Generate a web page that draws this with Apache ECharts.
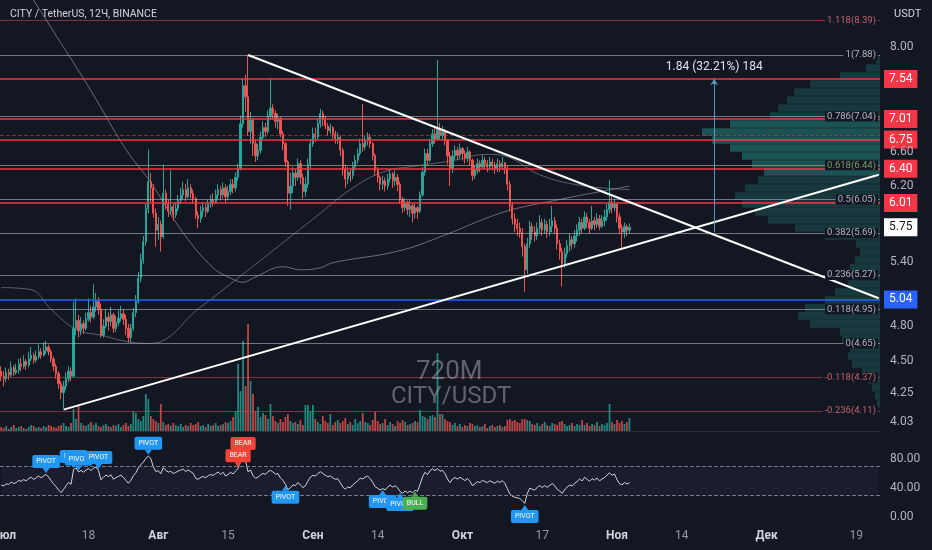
<!DOCTYPE html>
<html><head><meta charset="utf-8">
<script src="https://cdn.jsdelivr.net/npm/echarts/dist/echarts.min.js"></script>
<style>html,body{margin:0;padding:0;background:#131722;}#c{width:932px;height:550px;}</style>
</head><body><div id="c"></div>
<script>
// ---------- data ----------
const startTime = Date.UTC(2023,5,30,12); // first 12h bar: Jun 30 12:00
const barCount = 353;                     // bars incl. empty future space
const open0 = 4.42;
const closes = [4.38,4.36,4.41,4.39,4.45,4.41,4.43,4.48,4.46,4.50,4.47,4.52,4.55,4.51,4.54,4.58,4.55,4.59,4.62,4.58,
4.52,4.46,4.40,4.32,4.25,4.30,4.36,4.42,4.38,4.78,4.85,4.76,4.82,4.78,4.86,4.92,4.88,4.97,5.02,4.95,
4.72,4.80,4.88,4.84,4.90,4.78,4.83,4.87,4.91,4.86,4.78,4.70,4.78,4.92,5.02,5.24,5.42,5.60,5.95,6.25,
6.18,5.90,5.72,5.78,5.65,6.12,6.00,5.92,5.97,5.88,5.95,6.04,6.10,6.16,6.08,6.18,6.12,6.06,5.88,5.84,
5.92,5.96,5.92,6.00,6.05,6.02,6.10,6.16,6.10,6.18,6.08,6.14,6.22,6.18,6.30,6.40,6.95,7.45,7.30,6.85,
7.00,6.70,6.55,6.62,6.78,6.90,6.85,7.05,7.15,7.08,6.98,7.02,6.82,6.70,6.48,6.12,6.20,6.35,6.30,6.46,
6.30,6.14,6.22,6.45,6.70,6.82,6.78,6.95,7.08,7.00,6.92,6.86,6.90,6.82,6.76,6.78,6.62,6.40,6.28,6.36,
6.32,6.42,6.50,6.58,6.70,6.66,6.74,6.78,6.70,6.56,6.38,6.30,6.22,6.26,6.20,6.28,6.34,6.26,6.30,6.22,
6.05,5.96,6.02,5.94,5.98,5.90,5.96,5.92,6.10,6.36,6.58,6.50,6.70,6.82,6.76,6.88,6.80,6.84,6.74,6.55,
6.40,6.55,6.62,6.56,6.64,6.58,6.52,6.60,6.50,6.32,6.38,6.46,6.42,6.50,6.46,6.42,6.48,6.44,6.40,6.46,
6.42,6.47,6.40,6.22,5.98,5.84,5.78,5.74,5.70,5.55,5.32,5.58,5.76,5.70,5.66,5.74,5.80,5.72,5.78,5.70,
5.76,5.82,5.74,5.58,5.50,5.38,5.48,5.56,5.62,5.58,5.66,5.72,5.80,5.74,5.86,5.80,5.74,5.82,5.78,5.84,
5.76,5.82,5.86,5.94,6.02,5.96,6.00,5.86,5.74,5.70,5.76,5.72,5.75];
const highs = [4.46,4.42,4.45,4.44,4.50,4.47,4.48,4.52,4.53,4.55,4.52,4.58,4.62,4.57,4.59,4.64,4.61,4.66,4.67,4.64,
4.60,4.54,4.48,4.42,4.34,4.34,4.41,4.46,4.45,5.02,5.05,4.90,4.88,4.85,4.92,5.05,4.98,5.18,5.10,5.06,
5.00,4.86,4.95,4.92,4.97,4.92,4.89,4.94,4.98,4.95,4.90,4.82,4.82,4.96,5.08,5.30,5.48,5.66,6.00,6.63,
6.35,6.22,5.95,5.86,5.82,6.45,6.16,6.05,6.38,6.00,6.02,6.10,6.18,6.25,6.22,6.28,6.22,6.16,6.08,5.92,
5.98,6.02,6.00,6.05,6.10,6.12,6.16,6.22,6.20,6.24,6.22,6.20,6.28,6.28,6.36,6.46,7.05,7.55,7.60,7.88,
7.10,7.02,6.75,6.70,6.85,6.98,6.96,7.12,7.55,7.20,7.12,7.08,7.04,6.86,6.72,6.50,6.35,6.42,6.40,6.52,
6.50,6.34,6.30,6.52,6.76,6.90,6.90,7.02,7.14,7.12,7.05,6.96,6.95,6.92,6.86,6.84,6.80,6.65,6.45,6.42,
6.40,6.48,6.56,6.64,6.76,7.20,6.80,6.84,6.82,6.72,6.58,6.42,6.32,6.32,6.30,6.34,6.40,6.36,6.38,6.34,
6.25,6.08,6.06,6.04,6.04,6.00,6.00,5.98,6.14,6.42,6.64,6.64,6.76,6.88,6.90,7.81,6.96,6.92,6.88,6.76,
6.60,6.62,6.68,6.66,6.70,6.66,6.62,6.66,6.62,6.52,6.44,6.52,6.50,6.56,6.54,6.50,6.54,6.52,6.48,6.52,
6.50,6.54,6.48,6.44,6.26,6.02,5.90,5.84,5.80,5.74,5.58,5.64,5.82,5.80,5.76,5.80,5.88,5.84,5.84,5.82,
5.84,5.98,5.86,5.78,5.62,5.54,5.54,5.62,5.68,5.66,5.72,5.78,5.86,5.84,5.92,5.90,5.84,5.98,5.86,5.90,
5.88,5.88,5.94,6.00,6.27,6.08,6.06,6.02,5.90,5.78,5.80,5.78,5.79];
const lows = [4.34,4.30,4.33,4.35,4.37,4.38,4.39,4.40,4.42,4.44,4.43,4.45,4.50,4.48,4.49,4.52,4.52,4.54,4.56,4.55,
4.49,4.42,4.36,4.28,4.20,4.13,4.27,4.33,4.34,4.37,4.72,4.70,4.72,4.73,4.76,4.84,4.83,4.86,4.93,4.90,
4.70,4.70,4.78,4.76,4.80,4.74,4.75,4.80,4.84,4.81,4.72,4.66,4.66,4.76,4.88,5.00,5.20,5.38,5.56,5.90,
6.02,5.85,5.55,5.62,5.50,5.63,5.94,5.86,5.88,5.82,5.85,5.92,6.00,6.05,6.03,6.06,6.06,6.00,5.84,5.74,
5.80,5.86,5.86,5.90,5.96,5.97,6.00,6.05,6.04,6.06,6.02,6.04,6.10,6.12,6.14,6.26,6.38,6.90,7.10,6.80,
6.70,6.55,6.48,6.50,6.58,6.74,6.78,6.82,7.00,7.00,6.90,6.88,6.78,6.62,6.42,5.98,5.94,6.12,6.20,6.26,
6.22,6.06,6.08,6.18,6.40,6.66,6.72,6.75,6.90,6.92,6.88,6.80,6.82,6.76,6.70,6.70,6.55,6.32,6.18,6.22,
6.25,6.28,6.38,6.46,6.55,6.60,6.62,6.68,6.65,6.50,6.32,6.24,6.15,6.16,6.14,6.16,6.24,6.18,6.20,6.14,
6.00,5.90,5.92,5.88,5.86,5.80,5.84,5.84,5.90,6.08,6.32,6.44,6.48,6.66,6.70,6.74,6.75,6.74,6.68,6.45,
6.20,6.35,6.50,6.50,6.52,6.50,6.46,6.48,6.44,6.26,6.28,6.34,6.36,6.40,6.40,6.36,6.38,6.38,6.34,6.36,
6.36,6.38,6.34,6.15,5.92,5.78,5.70,5.66,5.64,5.45,5.11,5.28,5.54,5.62,5.60,5.62,5.68,5.66,5.68,5.64,
5.66,5.70,5.68,5.52,5.42,5.16,5.34,5.44,5.50,5.52,5.54,5.60,5.66,5.68,5.72,5.74,5.68,5.72,5.72,5.74,
5.72,5.74,5.76,5.82,5.90,5.90,5.92,5.80,5.68,5.54,5.64,5.66,5.68];
const volumes = [4,3,5,2,4,6,3,4,5,3,2,4,6,5,3,4,3,5,4,6,5,4,3,5,6,8,5,4,
8,22,12,25,
8,6,5,7,9,6,8,5,4,6,7,5,4,6,5,7,4,6,8,5,7,
20,18,12,10,15,37,32,15,12,10,8,27,
9,6,7,5,8,6,5,7,4,6,5,8,6,7,9,5,6,4,7,5,6,8,5,6,7,9,8,10,14,
20,67,40,90,45,107,50,37,20,24,14,18,16,12,27,15,
10,8,12,9,14,17,10,8,9,7,11,6,
26,26,20,26,
12,9,7,15,10,8,17,6,9,11,8,10,13,7,9,6,12,8,10,
18,9,8,6,11,19,
10,7,8,12,6,9,7,5,10,8,11,9,6,7,8,10,9,
21,15,14,12,15,16,14,78,17,17,12,
10,9,6,8,5,7,4,6,5,8,7,5,6,4,5,7,3,5,6,4,5,6,4,5,
11,12,10,11,9,8,12,12,11,10,
7,6,8,5,7,9,6,5,8,7,6,9,10,7,5,6,8,5,7,6,
11,6,8,5,7,6,9,5,7,6,8,27,9,7,11,8,10,7,9,13];
const maSlow = [[0,9.58],[13,8.71],[24,8.05],[36,7.38],[50,6.63],[60,6.24],[73,5.69],[85,5.34],[92,5.24],[97,5.20],[101,5.24],[113,5.35],[120,5.32],[128,5.34],[133,5.39],[160,5.51],[180,5.69],[193,5.83],[205,5.94],[224,6.05],[235,6.11],[252,6.20]];
const maFast = [[0,5.15],[12,5.13],[20,4.95],[30,4.77],[40,4.72],[52,4.66],[60,4.65],[80,4.97],[96,5.26],[112,5.57],[128,5.90],[140,6.16],[153,6.36],[168,6.44],[180,6.49],[195,6.57],[204,6.53],[216,6.33],[232,6.21],[252,6.16]];
const axisTicks = [8.00,6.60,6.20,5.40,4.80,4.50,4.25,4.03];
const redLevels = [7.54,7.01,6.75,6.40,6.01];
const blueLevel = 5.04;
const lastPrice = 5.75;
const pocPrice = 6.81;
const fibLevels = [['1.118',8.39],['1',7.88],['0.786',7.04],['0.618',6.44],['0.5',6.05],['0.382',5.69],['0.236',5.27],['0.118',4.95],['0',4.65],['-0.118',4.37],['-0.236',4.11]];
const profile = [[7.808,4],[7.694,14],[7.583,40],[7.473,70],[7.364,86],[7.257,93],[7.152,102],[7.048,110],[6.946,150],[6.845,178],[6.746,168],[6.648,150],[6.551,138],[6.456,128],[6.362,116],[6.270,122],[6.179,135],[6.089,145],[6.001,138],[5.914,125],[5.828,112],[5.743,85],[5.660,55],[5.577,24],[5.496,20],[5.417,25],[5.338,30],[5.260,28],[5.184,32],[5.109,45],[5.035,55],[4.962,75],[4.890,82],[4.819,70],[4.749,40],[4.680,38],[4.612,30],[4.545,32],[4.479,28],[4.414,18],[4.350,12],[4.287,8],[4.224,5],[4.163,3]];
const trendDown = [[99,7.88],[352,5.05]];
const trendUp = [[25,4.12],[352,6.33]];
const measure = {idx:286, from:5.70, to:7.54, text:'1.84 (32.21%) 184'};
const pivots = [[18,'PIVOT','high','#2196f3'],[29,'PIVOT','high','#2196f3'],[31,'PIVOT','high','#2196f3'],[39,'PIVOT','high','#2196f3'],
[59,'PIVOT','high','#2196f3'],[95,'BEAR','high','#f44336'],[97,'BEAR','high','#f44336'],[114,'PIVOT','low','#2196f3'],
[153,'PIVOT','low','#2196f3'],[160,'PIVOT','low','#2196f3'],[166,'BULL','low','#4caf50'],[210,'PIVOT','low','#2196f3']];
const timeLabels = {1:'Июл',35:'18',63:'Авг',91:'15',125:'Сен',151:'14',185:'Окт',217:'17',247:'Ноя',273:'14',307:'Дек',343:'19'};
const monthIdx = [1,63,125,185,247,307];

// ---------- build ----------
const cats = [];
for (let i=0;i<barCount;i++){ const d=new Date(startTime+i*43200000); cats.push(d.toISOString().slice(0,13)); }
const candles = closes.map((c,i)=>{ const o=i?closes[i-1]:open0; return [o,c,Math.min(lows[i],o,c),Math.max(highs[i],o,c)]; });
const UP='#26a69a', DN='#ef5350';
const volData = volumes.map((v,i)=>({value:v,itemStyle:{color:candles[i][1]>=candles[i][0]?'rgba(38,166,154,0.8)':'rgba(239,83,80,0.8)'}}));
function calcRsi(cl,n,ag,al){ const out=[100-100/(1+ag/al)]; for(let i=1;i<cl.length;i++){ const ch=cl[i]-cl[i-1]; ag=(ag*(n-1)+Math.max(ch,0))/n; al=(al*(n-1)+Math.max(-ch,0))/n; out.push(100-100/(1+ag/al)); } return out; }
const rsi = calcRsi(closes,14,0.035,0.045);
const rsiFull = cats.map((c,i)=> i<rsi.length ? rsi[i] : null);
const FF = 'Roboto, "Noto Sans", sans-serif';
const BG = '#131722';
const NOLINE = {color:'rgba(0,0,0,0)',width:0.01};

function catAxis(grid, extra){ return Object.assign({type:'category',gridIndex:grid,data:cats,boundaryGap:true,axisLine:{show:false},axisTick:{show:false},axisLabel:{show:false},splitLine:{show:false}},extra||{}); }

const option = {
  animation:false,
  backgroundColor:BG,
  textStyle:{fontFamily:FF},
  title:[
    {text:'CITY / TetherUS, 12Ч, BINANCE',left:5,top:4,textStyle:{color:'#d1d4dc',fontSize:10.5,fontWeight:'normal',fontFamily:FF}},
    {text:'USDT',left:889,top:4,textStyle:{color:'#d1d4dc',fontSize:11,fontWeight:'normal',fontFamily:FF}},
    {text:'720M',left:411,top:354,textStyle:{color:'rgba(160,163,172,0.55)',fontSize:26,fontWeight:'normal',fontFamily:FF}},
    {text:'CITY/USDT',left:386,top:380,textStyle:{color:'rgba(160,163,172,0.55)',fontSize:24,fontWeight:'normal',fontFamily:FF}}
  ],
  grid:[
    {left:0,right:52,top:0,height:431,outerBoundsMode:'none',containLabel:false},
    {left:0,right:52,top:321,height:110,outerBoundsMode:'none',containLabel:false},
    {left:0,right:52,top:432,height:85,outerBoundsMode:'none',containLabel:false}
  ],
  xAxis:[
    catAxis(0,{axisLine:{show:true,lineStyle:{color:'#2a2e39'}}}),
    catAxis(1),
    {type:'value',gridIndex:0,min:0,max:880,inverse:true,show:false},
    catAxis(2,{axisLabel:{show:true,interval:(i)=>timeLabels[i]!==undefined,margin:13,fontSize:12,color:'#9598a1',fontFamily:FF,
      formatter:(v,i)=>monthIdx.includes(i)?'{m|'+timeLabels[i]+'}':timeLabels[i],rich:{m:{color:'#d1d4dc',fontWeight:'bold',fontSize:12,fontFamily:FF}}}})
  ],
  yAxis:[
    {type:'log',gridIndex:0,min:3.962,max:8.713,position:'right',axisLabel:{show:false},axisLine:{show:false},axisTick:{show:false},splitLine:{show:false}},
    {type:'value',gridIndex:1,min:0,max:110,show:false},
    {type:'value',gridIndex:2,min:0,max:117,interval:40,position:'right',axisLine:{show:false},axisTick:{show:false},splitLine:{show:false},
      axisLabel:{color:'#b2b5be',fontSize:12,margin:10,fontFamily:FF,showMaxLabel:false,formatter:v=>v.toFixed(2)}}
  ],
  series:[
    // volume profile
    {type:'custom',xAxisIndex:2,yAxisIndex:0,z:1,silent:true,data:profile,
      renderItem:(params,api)=>{ const p=api.value(0), w=api.value(1); const a=api.coord([w,p]), b=api.coord([0,p]); const h=7.6;
        return {type:'rect',shape:{x:a[0],y:a[1]-h/2,width:b[0]-a[0],height:h},style:{fill:(p>=6.3&&p<=7.0)?'rgba(38,166,154,0.42)':'rgba(38,166,154,0.24)'}}; }},
    // fib levels
    {type:'line',xAxisIndex:0,yAxisIndex:0,data:[],z:2,
      markLine:{silent:true,symbol:['none','none'],
        data:fibLevels.map(([k,v])=>{ const neg = k==='1.118'||k.startsWith('-'); const col = neg?'rgba(200,70,85,0.6)':(k==='0.618'?'rgba(140,150,110,0.8)':'rgba(178,181,190,0.6)');
          const lc = neg?'#c2606d':(k==='0.618'?'#7c9c62':'#b2b5be');
          return {yAxis:v,lineStyle:{color:col,width:1,type:'solid'},label:{formatter:k+'('+v.toFixed(2)+')',color:lc}}; }),
        label:{show:true,position:'insideEnd',distance:2,fontSize:9.5,backgroundColor:BG,padding:[0,2],fontFamily:FF}}},
    // POC dashed
    {type:'line',xAxisIndex:0,yAxisIndex:0,data:[],z:2,
      markLine:{silent:true,symbol:['none','none'],label:{show:false},data:[{yAxis:pocPrice}],lineStyle:{color:'rgba(242,54,69,0.55)',type:'dashed',width:1}}},
    // moving averages
    {type:'line',xAxisIndex:0,yAxisIndex:0,data:maSlow,smooth:0.4,symbol:'none',z:2,lineStyle:{color:'rgba(178,181,190,0.55)',width:1}},
    {type:'line',xAxisIndex:0,yAxisIndex:0,data:maFast,smooth:0.4,symbol:'none',z:2,lineStyle:{color:'rgba(178,181,190,0.45)',width:1}},
    // volume
    {type:'bar',xAxisIndex:1,yAxisIndex:1,data:volData,barWidth:'70%',z:2},
    // candles
    {type:'candlestick',xAxisIndex:0,yAxisIndex:0,data:candles,barWidth:'70%',z:3,
      itemStyle:{color:UP,color0:DN,borderColor:UP,borderColor0:DN,borderWidth:1}},
    // red levels
    {type:'line',xAxisIndex:0,yAxisIndex:0,data:[],z:4,
      markLine:{silent:true,symbol:['none','none'],lineStyle:{color:'#f23645',width:1.6,type:'solid'},
        label:{show:true,position:'end',distance:4,backgroundColor:'#f23645',color:'#fff',fontSize:12,padding:[3,5],fontFamily:FF},
        data:redLevels.map(v=>({yAxis:v,label:{formatter:v.toFixed(2)}}))}},
    // blue level
    {type:'line',xAxisIndex:0,yAxisIndex:0,data:[],z:4,
      markLine:{silent:true,symbol:['none','none'],lineStyle:{color:'#2962ff',width:1.6,type:'solid'},
        label:{show:true,position:'end',distance:4,backgroundColor:'#2962ff',color:'#fff',fontSize:12,padding:[3,5],fontFamily:FF},
        data:[{yAxis:blueLevel,label:{formatter:blueLevel.toFixed(2)}}]}},
    // axis tick labels + last price
    {type:'line',xAxisIndex:0,yAxisIndex:0,data:[],z:3,
      markLine:{silent:true,symbol:['none','none'],lineStyle:NOLINE,
        label:{show:true,position:'end',distance:10,color:'#b2b5be',fontSize:12,fontFamily:FF},
        data:axisTicks.map(v=>({yAxis:v,label:{formatter:v.toFixed(2)}}))}},
    {type:'line',xAxisIndex:0,yAxisIndex:0,data:[],z:5,
      markLine:{silent:true,symbol:['none','none'],lineStyle:NOLINE,
        label:{show:true,position:'end',distance:4,backgroundColor:'#ffffff',color:'#131722',fontSize:12,padding:[3,5],fontFamily:FF},
        data:[{yAxis:lastPrice,label:{formatter:lastPrice.toFixed(2)}}]}},
    // trend lines
    {type:'line',xAxisIndex:0,yAxisIndex:0,data:[],z:6,
      markLine:{silent:true,symbol:['none','none'],label:{show:false},lineStyle:{color:'#ffffff',width:2,type:'solid'},
        data:[[{coord:[cats[trendDown[0][0]],trendDown[0][1]]},{coord:[cats[trendDown[1][0]],trendDown[1][1]]}],
              [{coord:[cats[trendUp[0][0]],trendUp[0][1]]},{coord:[cats[trendUp[1][0]],trendUp[1][1]]}]]}},
    // measure tool
    {type:'line',xAxisIndex:0,yAxisIndex:0,data:[],z:5,
      markLine:{silent:true,symbol:['none','arrow'],symbolSize:6,lineStyle:{color:'rgba(90,165,200,0.9)',width:1,type:'solid'},
        label:{show:true,position:'end',distance:6,formatter:measure.text,color:'#e0e3eb',fontSize:12,fontFamily:FF},
        data:[[{coord:[cats[measure.idx],measure.from]},{coord:[cats[measure.idx],measure.to]}]]}},
    // RSI
    {type:'line',xAxisIndex:3,yAxisIndex:2,data:rsiFull,symbol:'none',z:3,lineStyle:{color:'#d1d4dc',width:1},
      markLine:{silent:true,symbol:['none','none'],label:{show:false},lineStyle:{color:'#787b86',type:'dashed',width:1},data:[{yAxis:70},{yAxis:30}]},
      markArea:{silent:true,itemStyle:{color:'rgba(126,87,194,0.08)'},data:[[{yAxis:30,xAxis:cats[0]},{yAxis:70,xAxis:cats[barCount-1]}]]},
      markPoint:{silent:true,data:pivots.map(([i,t,k,c])=>({coord:[cats[i],rsi[i]],symbol:'triangle',symbolSize:[7,5],
        symbolRotate:k==='high'?180:0,symbolOffset:[0,k==='high'?-4:4],itemStyle:{color:c},
        label:{show:true,formatter:t,position:k==='high'?'top':'bottom',distance:0,backgroundColor:c,color:'#fff',fontSize:7,padding:[3,4],borderRadius:2,fontFamily:FF}}))}}
  ]
};
echarts.init(document.getElementById('c')).setOption(option);
</script></body></html>
